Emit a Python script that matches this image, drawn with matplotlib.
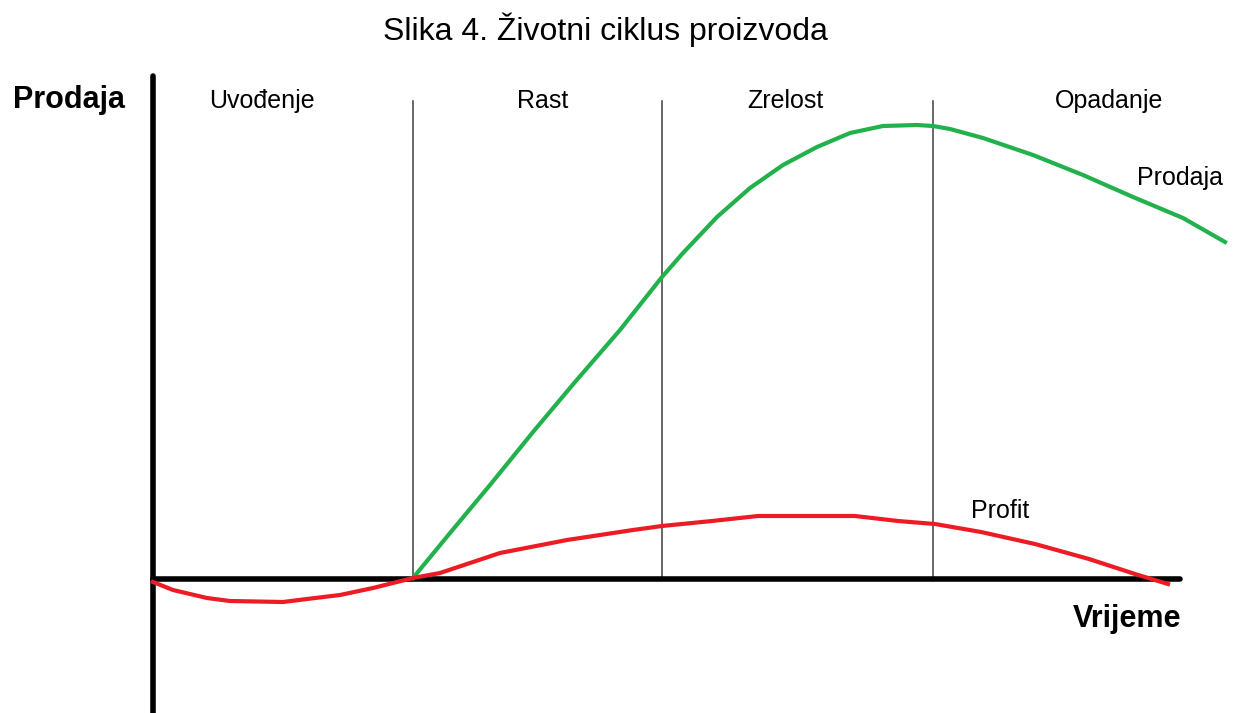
import matplotlib.pyplot as plt

plt.rcParams['font.family'] = ['Liberation Sans', 'DejaVu Sans']

# time axis (0 = start), values relative to the zero line
sales_t = [260, 297, 337, 380, 422, 467, 509, 530, 564, 597, 630, 664, 697, 730,
           764, 780, 797, 830, 880, 930, 980, 1030, 1072]
sales_v = [1, 46, 94, 147, 197, 249, 302, 326, 362, 391, 414, 432, 446, 453,
           454, 453, 450, 441, 424, 404, 382, 361, 337]

profit_t = [0, 20, 54, 77, 130, 154, 187, 220, 260, 287, 347, 414, 480, 509,
            559, 605, 702, 745, 782, 828, 882, 936, 982, 1015]
profit_v = [-3, -11, -19, -22, -23, -20, -16, -9, 1, 6, 26, 39, 49, 53,
            58, 63, 63, 58, 55, 47, 35, 20, 5, -5]

phase_t = [260, 509, 780]
phase_names = ['Uvođenje', 'Rast', 'Zrelost', 'Opadanje']
phase_label_t = [109, 390, 632, 956]

fig = plt.figure(figsize=(12.35, 7.13), dpi=100)
ax = fig.add_axes([0, 0, 1, 1])
ax.set_xlim(-153, 1235 - 153)
ax.set_ylim(579 - 713, 579)
ax.axis('off')

# axis lines
ax.plot([0, 0], [-140, 503], color='black', lw=4, solid_capstyle='round', zorder=3)
ax.plot([0, 1027], [0, 0], color='black', lw=4, solid_capstyle='round', zorder=3)

# phase boundaries
for t in phase_t:
    ax.plot([t, t], [0, 478], color='#404040', lw=1.1, zorder=1)

ax.plot(sales_t, sales_v, color='#22b14c', lw=3, zorder=4)
ax.plot(profit_t, profit_v, color='#ed1c24', lw=3, zorder=4)

for name, t in zip(phase_names, phase_label_t):
    ax.text(t, 478, name, fontsize=18, ha='center', va='center')

ax.text(1027, 401, 'Prodaja', fontsize=18, ha='center', va='center')
ax.text(847, 68, 'Profit', fontsize=18, ha='center', va='center')
ax.text(-84, 479, 'Prodaja', fontsize=22, fontweight='bold', ha='center', va='center')
ax.text(974, -40, 'Vrijeme', fontsize=22, fontweight='bold', ha='center', va='center')
ax.text(452, 549, 'Slika 4. Životni ciklus proizvoda', fontsize=23, ha='center', va='center')

fig.savefig('out.png', dpi=100)
